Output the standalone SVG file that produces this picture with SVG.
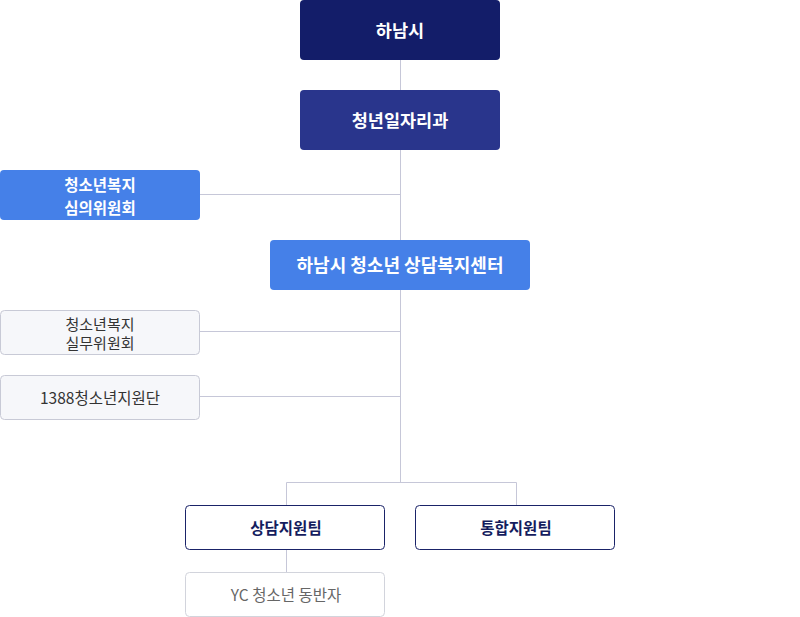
<svg xmlns="http://www.w3.org/2000/svg" width="800" height="617" viewBox="0 0 800 617">
<style>
text{font-family:"Noto Sans CJK KR","Noto Sans",sans-serif;text-anchor:middle;dominant-baseline:central}
.w{fill:#ffffff;font-weight:bold;font-size:17.5px}
.wc{fill:#ffffff;font-weight:bold;font-size:18px}
.wm{fill:#ffffff;font-weight:bold;font-size:15.5px}
.g{fill:#333333;font-size:15px}
.g2{fill:#333333;font-size:15.5px}
.n{fill:#141c5e;font-weight:bold;font-size:15.5px}
.y{fill:#666666;font-size:15.5px}
.line{stroke:#c6c7d8;stroke-width:1;fill:none}
.blue{fill:#4580e8}
.gray{fill:#f6f7fa;stroke:#c8cad6;stroke-width:1}
.team{fill:#ffffff;stroke:#1a2368;stroke-width:1}
.yc{fill:#ffffff;stroke:#d2d4dc;stroke-width:1}
</style>
<g id="connectors">
<line class="line" x1="400.5" y1="60" x2="400.5" y2="482"/>
<line class="line" x1="200" y1="194.5" x2="400.5" y2="194.5"/>
<line class="line" x1="200" y1="331.5" x2="400.5" y2="331.5"/>
<line class="line" x1="200" y1="396.5" x2="400.5" y2="396.5"/>
<polyline class="line" points="286.5,505 286.5,482.5 516.5,482.5 516.5,505"/>
<line class="line" x1="286.5" y1="550" x2="286.5" y2="572"/>
</g>
<g id="hanam">
<rect x="300" y="0" width="200" height="60" rx="4" fill="#131d69"/>
<text class="w" x="400" y="29">하남시</text>
</g>
<g id="youth-job">
<rect x="300" y="90" width="200" height="60" rx="4" fill="#29358c"/>
<text class="w" x="400" y="119">청년일자리과</text>
</g>
<g id="deliberation">
<rect class="blue" x="0" y="170" width="200" height="50" rx="4"/>
<text class="wm" x="100" y="184">청소년복지</text>
<text class="wm" x="100" y="206.5">심의위원회</text>
</g>
<g id="center">
<rect class="blue" x="270" y="240" width="260" height="50" rx="4"/>
<text class="wc" x="400" y="264">하남시 청소년 상담복지센터</text>
</g>
<g id="working">
<rect class="gray" x="0.5" y="310.5" width="199" height="44" rx="4"/>
<text class="g" x="100" y="323.5">청소년복지</text>
<text class="g" x="100" y="342.5">실무위원회</text>
</g>
<g id="support1388">
<rect class="gray" x="0.5" y="375.5" width="199" height="44" rx="4"/>
<text class="g2" x="100" y="397">1388청소년지원단</text>
</g>
<g id="counsel">
<rect class="team" x="185.5" y="505.5" width="199" height="44" rx="4"/>
<text class="n" x="286" y="527">상담지원팀</text>
</g>
<g id="integrated">
<rect class="team" x="415.5" y="505.5" width="199" height="44" rx="4"/>
<text class="n" x="516" y="527">통합지원팀</text>
</g>
<g id="yc">
<rect class="yc" x="185.5" y="572.5" width="199" height="44" rx="4"/>
<text class="y" x="286" y="594">YC 청소년 동반자</text>
</g>
</svg>
